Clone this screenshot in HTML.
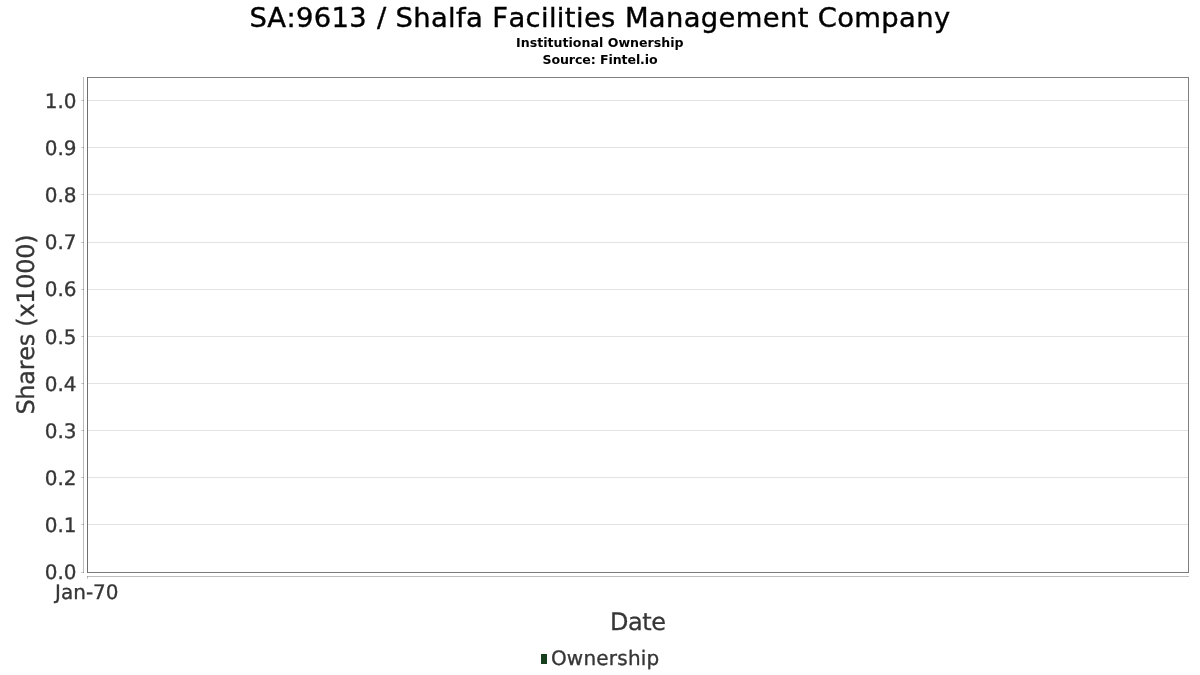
<!DOCTYPE html>
<html>
<head>
<meta charset="utf-8">
<title>SA:9613 / Shalfa Facilities Management Company - Institutional Ownership</title>
<style>
html,body{margin:0;padding:0;background:#fff;}
body{width:1200px;height:675px;overflow:hidden;}
svg{display:block;will-change:transform;}
text{font-family:"DejaVu Sans","Liberation Sans",sans-serif;font-kerning:none;font-variant-ligatures:none;}
.t{font-size:27.4px;fill:#000;letter-spacing:0.35px;stroke:#000;stroke-width:0.4px;}
.s{font-size:12.6px;font-weight:bold;fill:#000;text-anchor:middle;}
.y{font-size:20px;fill:#363636;text-anchor:end;stroke:#363636;stroke-width:0.34px;text-rendering:geometricPrecision;}
.x{font-size:20px;fill:#363636;text-anchor:middle;stroke:#363636;stroke-width:0.34px;text-rendering:geometricPrecision;}
.a{font-size:24px;fill:#363636;stroke:#363636;stroke-width:0.3px;text-rendering:geometricPrecision;}
.l{font-size:20px;fill:#363636;stroke:#363636;stroke-width:0.34px;text-rendering:geometricPrecision;}
</style>
</head>
<body>
<svg width="1200" height="675" viewBox="0 0 1200 675">
<rect x="0" y="0" width="1200" height="675" fill="#ffffff"/>
<!-- titles -->
<text class="t" y="27"><tspan x="249.6">SA:9613</tspan> <tspan x="377">/</tspan> <tspan x="395.5">Shalfa</tspan> <tspan x="492.3">Facilities</tspan> <tspan x="624.9">Management</tspan> <tspan x="817.7">Company</tspan></text>
<text class="s" x="599.8" y="47">Institutional Ownership</text>
<text class="s" x="600" y="63.8" style="letter-spacing:-0.1px">Source: Fintel.io</text>
<!-- gridlines -->
<g fill="#e3e3e3" shape-rendering="crispEdges">
<rect x="88" y="100" width="1100" height="1"/>
<rect x="88" y="147" width="1100" height="1"/>
<rect x="88" y="194" width="1100" height="1"/>
<rect x="88" y="242" width="1100" height="1"/>
<rect x="88" y="289" width="1100" height="1"/>
<rect x="88" y="336" width="1100" height="1"/>
<rect x="88" y="383" width="1100" height="1"/>
<rect x="88" y="430" width="1100" height="1"/>
<rect x="88" y="477" width="1100" height="1"/>
<rect x="88" y="524" width="1100" height="1"/>
</g>
<!-- plot outline -->
<g shape-rendering="crispEdges">
<rect x="87" y="77" width="1102" height="1" fill="#808080"/>
<rect x="1188" y="77" width="1" height="496" fill="#808080"/>
<rect x="87" y="572" width="1102" height="1" fill="#7a7a7a"/>
<rect x="87" y="77" width="1" height="496" fill="#6f6f6f"/>
</g>
<!-- axis lines -->
<g fill="#bdbdbd" shape-rendering="crispEdges">
<rect x="83" y="77" width="1" height="496"/>
<rect x="87" y="576" width="1102" height="1"/>
</g>
<!-- tick marks -->
<g fill="#000000" fill-opacity="0.2" shape-rendering="crispEdges">
<rect x="81" y="100" width="3" height="1"/>
<rect x="81" y="147" width="3" height="1"/>
<rect x="81" y="194" width="3" height="1"/>
<rect x="81" y="242" width="3" height="1"/>
<rect x="81" y="289" width="3" height="1"/>
<rect x="81" y="336" width="3" height="1"/>
<rect x="81" y="383" width="3" height="1"/>
<rect x="81" y="430" width="3" height="1"/>
<rect x="81" y="477" width="3" height="1"/>
<rect x="81" y="524" width="3" height="1"/>
<rect x="81" y="572" width="3" height="1"/>
<rect x="87" y="576" width="1" height="3"/>
</g>
<!-- y tick labels -->
<text class="y" x="76.6" y="107.8">1.0</text>
<text class="y" x="76.6" y="154.9">0.9</text>
<text class="y" x="76.6" y="202.1">0.8</text>
<text class="y" x="76.6" y="249.2">0.7</text>
<text class="y" x="76.6" y="296.4">0.6</text>
<text class="y" x="76.6" y="343.5">0.5</text>
<text class="y" x="76.6" y="390.7">0.4</text>
<text class="y" x="76.6" y="437.8">0.3</text>
<text class="y" x="76.6" y="484.9">0.2</text>
<text class="y" x="76.6" y="532.1">0.1</text>
<text class="y" x="76.6" y="578.9">0.0</text>
<!-- x tick label -->
<text class="x" x="86.8" y="598.8">Jan-70</text>
<!-- axis labels -->
<text class="a" x="609.9" y="629.5" style="letter-spacing:-0.4px">Date</text>
<text class="a" transform="translate(34,414.6) rotate(-90)" x="0" y="0" style="letter-spacing:-0.28px">Shares (x1000)</text>
<!-- legend -->
<rect x="541" y="654" width="6" height="10" fill="#17401f" shape-rendering="crispEdges"/>
<text class="l" x="550.9" y="665.3" style="letter-spacing:0.22px">Ownership</text>
</svg>
</body>
</html>
